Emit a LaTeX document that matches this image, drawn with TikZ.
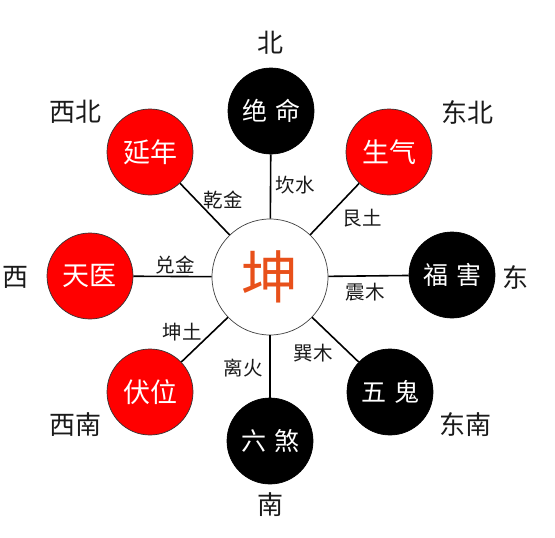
\documentclass[tikz,border=0pt]{standalone}
\usepackage{fontspec}
\newfontfamily\cjk{Noto Sans CJK SC}
\definecolor{kun}{HTML}{E8501A}
\definecolor{txt}{HTML}{1A1A1A}
\definecolor{redc}{HTML}{FF0000}
\begin{document}
\begin{tikzpicture}[x=1pt,y=-1pt,
  hub/.style={circle,inner sep=0pt,minimum size=116pt,draw=black!75,line width=0.7pt,fill=white,
    text=kun,font=\cjk\fontsize{57}{57}\selectfont},
  redball/.style={circle,inner sep=0pt,minimum size=86pt,fill=redc,draw=black!80,line width=0.7pt,
    text=white,font=\cjk\fontsize{27}{27}\selectfont},
  blackball/.style={circle,inner sep=0pt,minimum size=86pt,fill=black,draw=black,line width=0.7pt,
    text=white,font=\cjk\fontsize{25}{25}\selectfont},
  dirlbl/.style={text=txt,inner sep=0pt,font=\cjk\fontsize{26}{26}\selectfont},
  gualbl/.style={text=txt,inner sep=0pt,font=\cjk\fontsize{19.5}{19.5}\selectfont},
  spoke/.style={line width=1.6pt,black}]
\useasboundingbox (0,0) rectangle (555,538);
\fill[white] (0,0) rectangle (555,538);

\node[hub] (C) at (270,277) {坤};

\node[blackball] (N)  at (271,111) {绝\hspace{8pt}命};
\node[redball]   (NE) at (389,152) {生气};
\node[blackball] (E)  at (452,275) {福\hspace{8pt}害};
\node[blackball] (SE) at (390,392) {五\hspace{8pt}鬼};
\node[blackball] (S)  at (270,441) {六\hspace{8pt}煞};
\node[redball]   (SW) at (150,392) {伏位};
\node[redball]   (W)  at (90,276)  {天医};
\node[redball]   (NW) at (150,152) {延年};

\foreach \n in {N,NE,E,SE,S,SW,W,NW} \draw[spoke] (C) -- (\n);

\node[dirlbl] (dN)  at (270,43)  {北};
\node[dirlbl] (dNE) at (467,112) {东北};
\node[dirlbl] (dE)  at (515,277) {东};
\node[dirlbl] (dSE) at (465,425) {东南};
\node[dirlbl] (dS)  at (270,505) {南};
\node[dirlbl] (dSW) at (75,425)  {西南};
\node[dirlbl] (dW)  at (15,277)  {西};
\node[dirlbl] (dNW) at (75,112)  {西北};

\node[gualbl] (gN)  at (295,185) {坎水};
\node[gualbl] (gNE) at (362,218) {艮土};
\node[gualbl] (gE)  at (365,292) {震木};
\node[gualbl] (gSE) at (313,353) {巽木};
\node[gualbl] (gS)  at (243,368) {离火};
\node[gualbl] (gSW) at (182,332) {坤土};
\node[gualbl] (gW)  at (175,265) {兑金};
\node[gualbl] (gNW) at (223,200) {乾金};
\end{tikzpicture}
\end{document}
